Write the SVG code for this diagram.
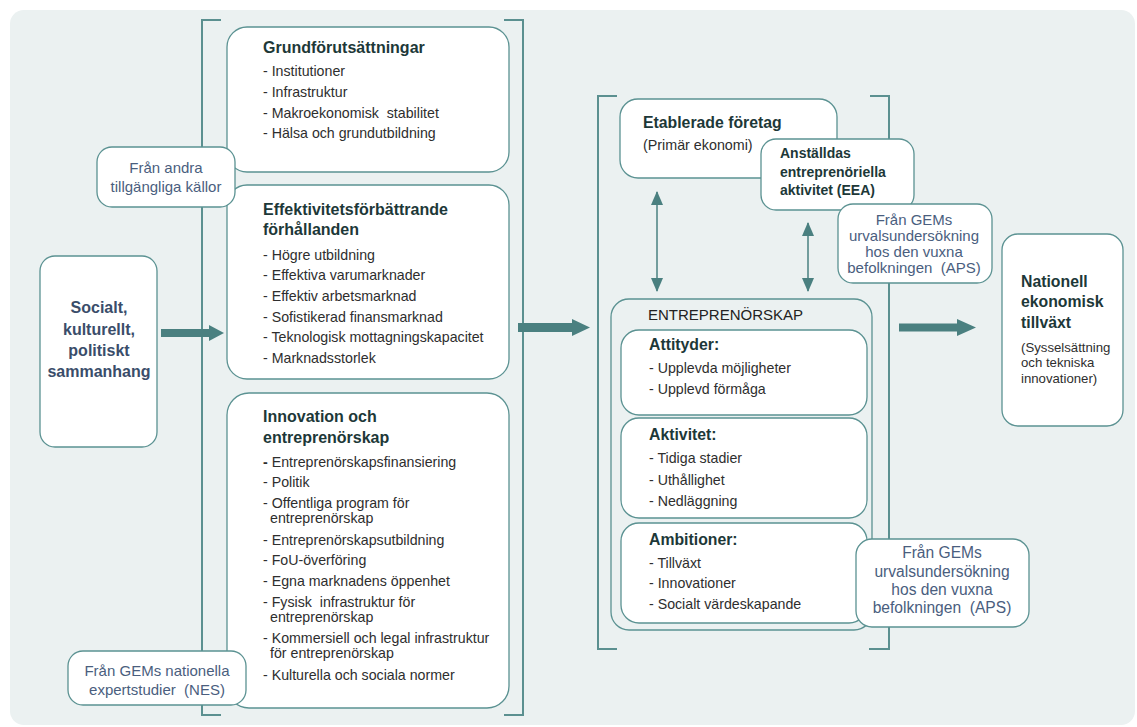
<svg xmlns="http://www.w3.org/2000/svg" width="1137" height="727" viewBox="0 0 1137 727">
<style>
text{font-family:"Liberation Sans",Arial,sans-serif}
.box{fill:#fff;stroke:#5b9292;stroke-width:1.3}
.grp{fill:none;stroke:#5b9292;stroke-width:1.3}
.br{fill:none;stroke:#5b9090;stroke-width:2}
.t{font-weight:bold;font-size:16px;fill:#1d3838}
.t15{font-weight:bold;font-size:15.8px;fill:#1d3838}
.i{font-size:14.2px;fill:#2e2e2e}
.i13{font-size:14.2px;fill:#2e2e2e}
.src{font-size:15px;fill:#4a5e7e;text-anchor:middle}
.src2{font-size:15.6px;fill:#4a5e7e;text-anchor:middle}
.soc{font-weight:bold;font-size:16px;fill:#3a4d6a;text-anchor:middle}
.big{fill:#4a8080}
.thin{stroke:#4a8080;stroke-width:1.5;fill:none;marker-start:url(#ah);marker-end:url(#ah)}
</style>
<defs>
<marker id="ah" viewBox="0 0 14 12" refX="13" refY="6" markerWidth="14" markerHeight="12" markerUnits="userSpaceOnUse" orient="auto-start-reverse">
<path d="M0,0 L14,6 L0,12 Z" fill="#4a8080"/>
</marker>
</defs>
<rect x="10" y="10" width="1125" height="715" rx="14" fill="#ebf1f1"/>

<g id="brackets">
<path class="br" d="M221,20 H202 V715 H221"/>
<path class="br" d="M504,20 H523 V715 H504"/>
<path class="br" d="M617,96 H598 V649 H617"/>
<path class="br" d="M870,96 H889 V649 H869"/>
</g>

<g id="connectors">
<polygon class="big" points="161,329 209,329 209,325 224,333 209,341 209,337 161,337"/>
<polygon class="big" points="518,323 572,323 572,319 590,327.5 572,336 572,332 518,332"/>
<polygon class="big" points="899,323.5 957,323.5 957,319 976,327.5 957,336 957,331.5 899,331.5"/>
<line class="thin" x1="657" y1="192" x2="657" y2="291"/>
<line class="thin" x1="808" y1="223" x2="808" y2="291"/>
</g>

<g id="grund">
<rect class="box" x="227" y="27" width="282" height="145" rx="20"/>
<text class="t" x="263" y="53">Grundförutsättningar</text>
<text class="i" x="263" y="76">- Institutioner</text>
<text class="i" x="263" y="97">- Infrastruktur</text>
<text class="i" x="263" y="118" xml:space="preserve">- Makroekonomisk  stabilitet</text>
<text class="i" x="263" y="138">- Hälsa och grundutbildning</text>
</g>

<g id="effektivitet">
<rect class="box" x="227" y="185" width="282" height="194" rx="20"/>
<text class="t" x="263" y="215">Effektivitetsförbättrande</text>
<text class="t" x="263" y="235">förhållanden</text>
<text class="i" x="263" y="260">- Högre utbildning</text>
<text class="i" x="263" y="280">- Effektiva varumarknader</text>
<text class="i" x="263" y="301">- Effektiv arbetsmarknad</text>
<text class="i" x="263" y="322">- Sofistikerad finansmarknad</text>
<text class="i" x="263" y="342">- Teknologisk mottagningskapacitet</text>
<text class="i" x="263" y="363">- Marknadsstorlek</text>
</g>

<g id="innovation">
<rect class="box" x="227" y="393" width="282" height="315" rx="22"/>
<text class="t" x="263" y="422">Innovation och</text>
<text class="t" x="263" y="443">entreprenörskap</text>
<text class="i" x="263" y="467"><tspan font-weight="bold">-</tspan> Entreprenörskapsfinansiering</text>
<text class="i" x="263" y="487">- Politik</text>
<text class="i" x="263" y="508">- Offentliga program för</text>
<text class="i" x="270" y="523">entreprenörskap</text>
<text class="i" x="263" y="545">- Entreprenörskapsutbildning</text>
<text class="i" x="263" y="565">- FoU-överföring</text>
<text class="i" x="263" y="586">- Egna marknadens öppenhet</text>
<text class="i" x="263" y="607" xml:space="preserve">- Fysisk  infrastruktur för</text>
<text class="i" x="270" y="622">entreprenörskap</text>
<text class="i" x="263" y="643">- Kommersiell och legal infrastruktur</text>
<text class="i" x="270" y="658">för entreprenörskap</text>
<text class="i" x="263" y="680">- Kulturella och sociala normer</text>
</g>

<g id="andra-kallor">
<rect class="box" x="97" y="147" width="138" height="60" rx="15"/>
<text class="src" x="166" y="173">Från andra</text>
<text class="src" x="166" y="192">tillgängliga källor</text>
</g>

<g id="socialt">
<rect class="box" x="40" y="256" width="117" height="191" rx="15"/>
<text class="soc" x="99" y="313">Socialt,</text>
<text class="soc" x="99" y="335">kulturellt,</text>
<text class="soc" x="99" y="356">politiskt</text>
<text class="soc" x="99" y="377">sammanhang</text>
</g>

<g id="nes">
<rect class="box" x="68" y="651" width="178" height="54" rx="15"/>
<text class="src" x="157" y="676">Från GEMs nationella</text>
<text class="src" x="157" y="695" xml:space="preserve">expertstudier  (NES)</text>
</g>

<g id="etablerade">
<rect class="box" x="620" y="99" width="217" height="79" rx="18"/>
<text class="t15" x="643" y="128">Etablerade företag</text>
<text x="643" y="150" font-size="14.3" fill="#2e2e2e">(Primär ekonomi)</text>
</g>

<g id="eea">
<rect class="box" x="761" y="139" width="153" height="71" rx="15"/>
<text x="780" y="158" font-weight="bold" font-size="14" fill="#1d3838">Anställdas</text>
<text x="780" y="177" font-weight="bold" font-size="14" fill="#1d3838">entreprenöriella</text>
<text x="780" y="195" font-weight="bold" font-size="14" fill="#1d3838">aktivitet (EEA)</text>
</g>

<g id="aps1">
<rect class="box" x="838" y="204" width="154" height="79" rx="15"/>
<text class="src" x="914" y="225">Från GEMs</text>
<text class="src" x="914" y="241">urvalsundersökning</text>
<text class="src" x="914" y="257">hos den vuxna</text>
<text class="src" x="914" y="273" xml:space="preserve">befolkningen  (APS)</text>
</g>

<g id="entreprenorskap">
<rect class="grp" x="611" y="299" width="261" height="331" rx="18"/>
<text x="648" y="320" font-size="15" fill="#222">ENTREPRENÖRSKAP</text>
</g>

<g id="attityder">
<rect class="box" x="621" y="330" width="246" height="85" rx="18"/>
<text class="t15" x="649" y="350">Attityder:</text>
<text class="i13" x="649" y="373">- Upplevda möjligheter</text>
<text class="i13" x="649" y="394">- Upplevd förmåga</text>
</g>

<g id="aktivitet">
<rect class="box" x="621" y="418" width="246" height="100" rx="18"/>
<text class="t15" x="649" y="440">Aktivitet:</text>
<text class="i13" x="649" y="463">- Tidiga stadier</text>
<text class="i13" x="649" y="485">- Uthållighet</text>
<text class="i13" x="649" y="506">- Nedläggning</text>
</g>

<g id="ambitioner">
<rect class="box" x="621" y="523" width="246" height="100" rx="18"/>
<text class="t15" x="649" y="545">Ambitioner:</text>
<text class="i13" x="649" y="568">- Tillväxt</text>
<text class="i13" x="649" y="588">- Innovationer</text>
<text class="i13" x="649" y="609">- Socialt värdeskapande</text>
</g>

<g id="aps2">
<rect class="box" x="856" y="539" width="173" height="88" rx="16"/>
<text class="src2" x="942" y="558">Från GEMs</text>
<text class="src2" x="942" y="577">urvalsundersökning</text>
<text class="src2" x="942" y="595">hos den vuxna</text>
<text class="src2" x="942" y="613" xml:space="preserve">befolkningen  (APS)</text>
</g>

<g id="nationell">
<rect class="box" x="1002" y="234" width="121" height="192" rx="16"/>
<text class="t15" x="1021" y="287">Nationell</text>
<text class="t15" x="1021" y="307">ekonomisk</text>
<text class="t15" x="1021" y="328">tillväxt</text>
<text x="1021" y="352" font-size="13.2" fill="#2e2e2e">(Sysselsättning</text>
<text x="1021" y="367" font-size="13.2" fill="#2e2e2e">och tekniska</text>
<text x="1021" y="383" font-size="13.2" fill="#2e2e2e">innovationer)</text>
</g>
</svg>
